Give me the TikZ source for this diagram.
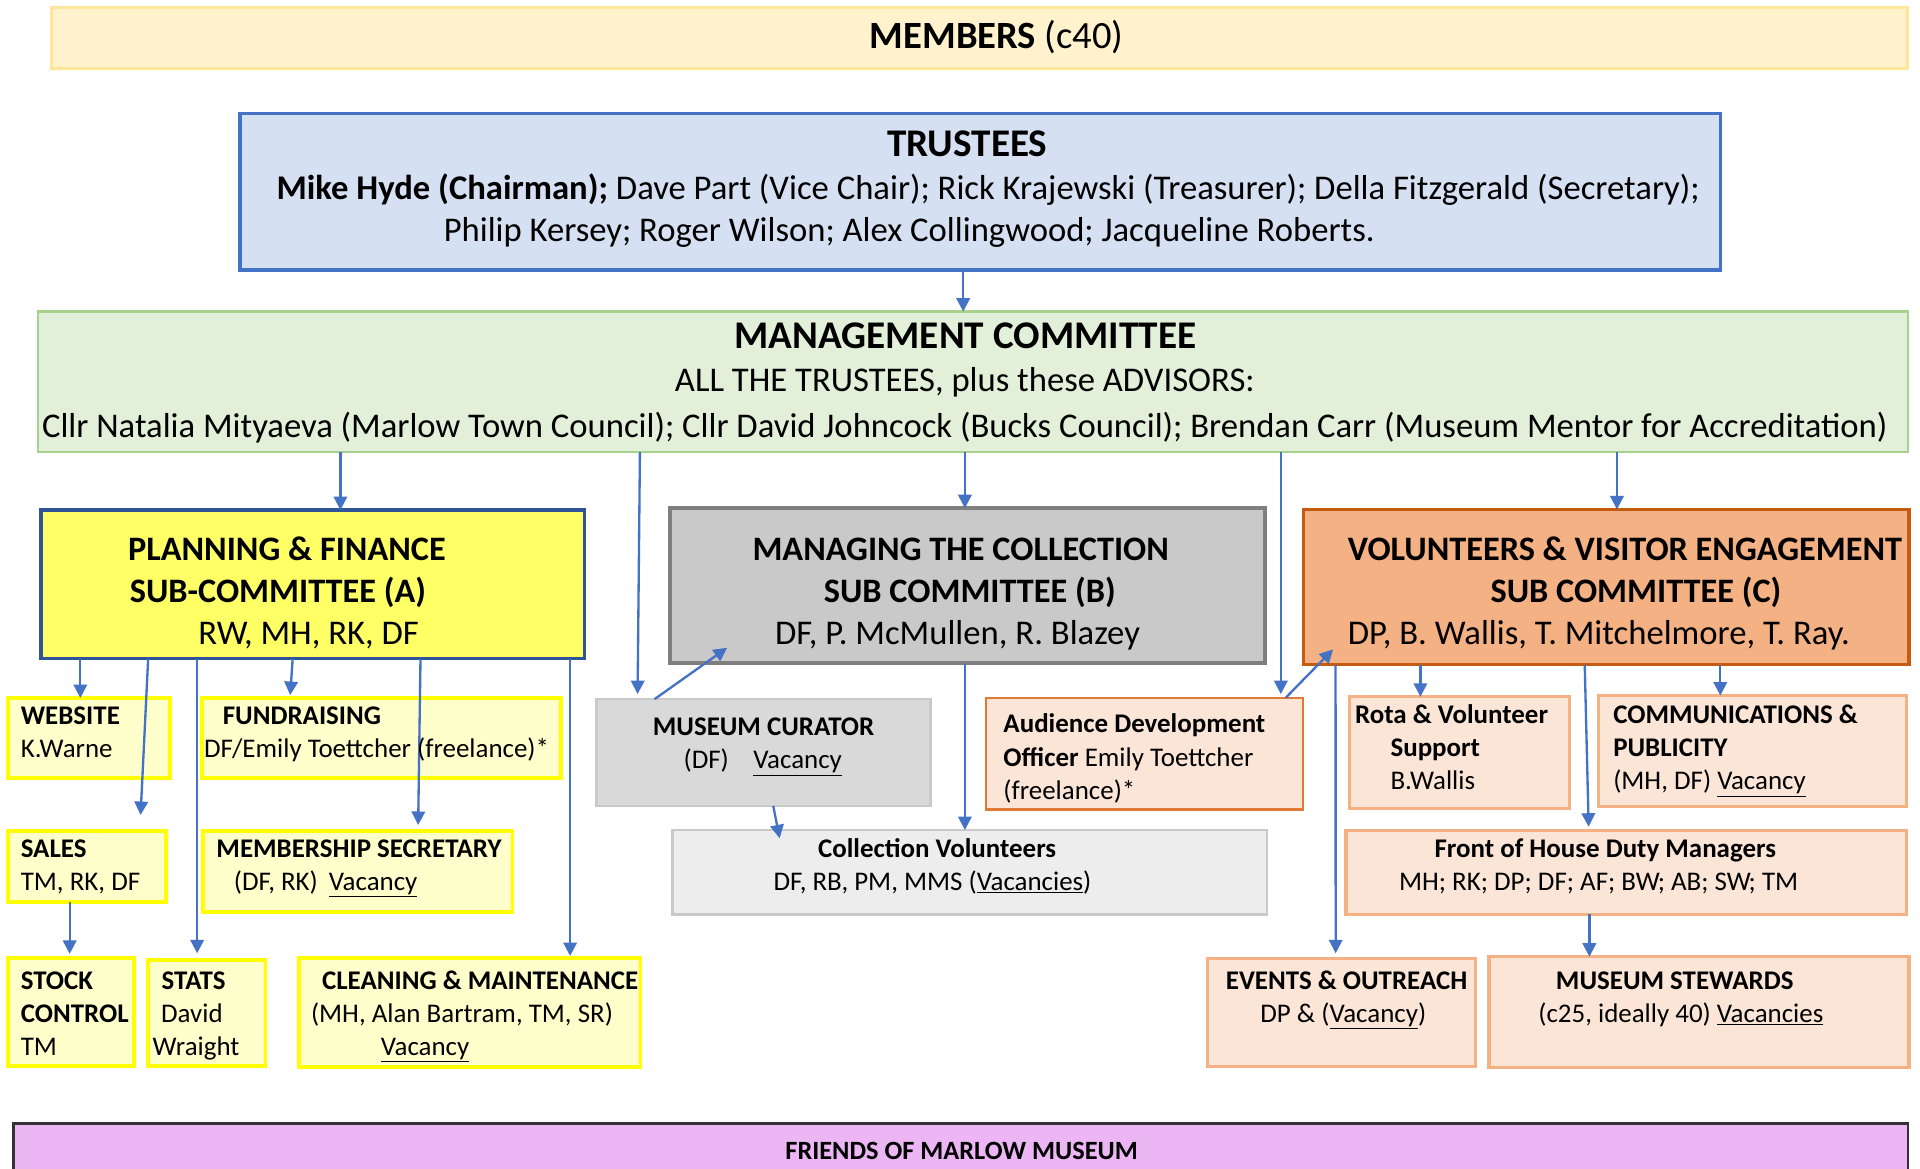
\documentclass[tikz,border=0pt]{standalone}
\usepackage{fontspec}
\setmainfont{Carlito}
\usetikzlibrary{arrows.meta}

\definecolor{membersfill}{HTML}{FFF2CC}
\definecolor{membersline}{HTML}{FFE699}
\definecolor{trusteesfill}{HTML}{D5E0F2}
\definecolor{trusteesline}{HTML}{4472C4}
\definecolor{mcfill}{HTML}{E2F0D9}
\definecolor{mcline}{HTML}{A9D18E}
\definecolor{pffill}{HTML}{FFFF66}
\definecolor{pfline}{HTML}{2F5597}
\definecolor{pfsubfill}{HTML}{FFFFCC}
\definecolor{pfsubline}{HTML}{FFFF00}
\definecolor{collfill}{HTML}{C9C9C9}
\definecolor{collline}{HTML}{7F7F7F}
\definecolor{curfill}{HTML}{D9D9D9}
\definecolor{cvfill}{HTML}{EDEDED}
\definecolor{greyline}{HTML}{C9C9C9}
\definecolor{volfill}{HTML}{F4B183}
\definecolor{volline}{HTML}{C55A11}
\definecolor{peachfill}{HTML}{FBE5D6}
\definecolor{peachline}{HTML}{F4B183}
\definecolor{adoline}{HTML}{E07A35}
\definecolor{friendsfill}{HTML}{ECB5F4}
\definecolor{friendsline}{HTML}{333333}
\definecolor{arrowblue}{HTML}{4472C4}

\newcommand\vacu[1]{\underline{#1}}
% box from its corners: name, style, x1, y1, x2, y2
\newcommand\orgbox[6]{%
  \node[box,#2,minimum width={(#5-#3)*1pt},minimum height={(#6-#4)*1pt}]
    (#1) at ({(#3+#5)/2},{(#4+#6)/2}) {};}

\tikzset{
  box/.style={rectangle, inner sep=0pt, outer sep=0pt},
  yelsub/.style={draw=pfsubline, fill=pfsubfill, line width=3pt},
  greybox/.style={draw=greyline, line width=2pt},
  peach/.style={draw=peachline, fill=peachfill, line width=2.5pt},
  lbl/.style={inner sep=0pt, outer sep=0pt, text=black},
  headtxt/.style={lbl, font=\fontsize{32}{36}\selectfont\bfseries},
  subhead/.style={lbl, font=\fontsize{28}{34}\selectfont\bfseries},
  bodytxt/.style={lbl, font=\fontsize{28.3}{34}\selectfont},
  smalltxt/.style={lbl, font=\fontsize{22}{27}\selectfont},
  smallbold/.style={lbl, font=\fontsize{22}{27}\selectfont\bfseries},
  arr/.style={draw=arrowblue, line width=1.9pt, -{Triangle[length=11pt,width=11pt]}},
}

\begin{document}
\begin{tikzpicture}[x=1pt,y=-1pt]
\useasboundingbox (0,0) rectangle (1568,954);
\fill[white] (0,0) rectangle (1568,954);
\clip (0,0) rectangle (1568,954);

% ---------- boxes ----------
\orgbox{members}{draw=membersline, fill=membersfill, line width=2.5pt}{42}{6}{1558}{56}
\orgbox{trustees}{draw=trusteesline, fill=trusteesfill, line width=2.5pt}{196}{92.5}{1405}{220.5}
\orgbox{mc}{draw=mcline, fill=mcfill, line width=2pt}{31}{254.5}{1558}{369}

\orgbox{pf}{draw=pfline, fill=pffill, line width=2.5pt}{33.5}{416.5}{477}{538}
\orgbox{coll}{draw=collline, fill=collfill, line width=3pt}{547}{415}{1033}{541.5}
\orgbox{vol}{draw=volline, fill=volfill, line width=2.5pt}{1064.5}{416}{1559}{543}

\orgbox{website}{yelsub}{6.6}{570}{138.6}{635.6}
\orgbox{fund}{yelsub}{165}{570}{458}{635.6}
\orgbox{sales}{yelsub}{6.6}{678.4}{135.6}{736.4}
\orgbox{memb}{yelsub}{166}{678.4}{418.5}{745}
\orgbox{stock}{yelsub}{6.6}{782.6}{109.4}{870.3}
\orgbox{stats}{yelsub}{121}{784}{216.9}{870.5}
\orgbox{clean}{yelsub}{244.3}{782.6}{523}{871.6}

\orgbox{curator}{greybox, fill=curfill}{487}{571}{760}{658.2}
\orgbox{cv}{greybox, fill=cvfill}{549.2}{677.8}{1034.5}{746.7}

\orgbox{ado}{draw=adoline, fill=peachfill, line width=1.8pt}{805}{569.8}{1063.9}{661}
\orgbox{rota}{peach}{1101.8}{569}{1281.9}{660}
\orgbox{comms}{peach}{1305.5}{568}{1557}{659}
\orgbox{foh}{peach}{1099.2}{678.4}{1557}{746.7}
\orgbox{events}{peach}{986}{782.6}{1204.6}{870.6}
\orgbox{stew}{peach}{1216}{781.3}{1559}{871.6}

\orgbox{friends}{draw=friendsline, fill=friendsfill, line width=2pt}{11}{917.4}{1558}{990}

% ---------- connectors ----------
\coordinate (xT) at (786.6,0);
\coordinate (xA) at (278,0);
\coordinate (xB) at (788,0);
\coordinate (xC) at (1320.5,0);
\coordinate (xCurS) at (522.6,0);  \coordinate (curIn) at (520.7,566.8);
\coordinate (xAdoS) at (1046,0);   \coordinate (adoIn) at (1046,566.8);

\draw[arr] (trustees.south -| xT) -- (mc.north -| xT);
\draw[arr] (mc.south -| xA) -- (pf.north -| xA);
\draw[arr] (mc.south -| xCurS) -- (curIn);
\draw[arr] (mc.south -| xB) -- (coll.north -| xB);
\draw[arr] (mc.south -| xAdoS) -- (adoIn);
\draw[arr] (mc.south -| xC) -- (vol.north -| xC);

% planning & finance branches
\coordinate (xW) at (65.6,0);
\coordinate (xSa) at (121,0);   \coordinate (salesIn) at (114.8,665.6);
\coordinate (xSt) at (161,0);   \coordinate (statsIn) at (161,778.5);
\coordinate (xF) at (239,0);    \coordinate (fundIn) at (237,567.6);
\coordinate (xM) at (343.4,0);  \coordinate (membIn) at (341.5,673.7);
\coordinate (xCl) at (465.6,0); \coordinate (cleanIn) at (465.6,780.7);
\coordinate (xSk) at (56.9,0);  \coordinate (stockIn) at (56.9,779);

\draw[arr] (pf.south -| xW) -- (website.north -| xW);
\draw[arr] (pf.south -| xSa) -- (salesIn);
\draw[arr] (pf.south -| xSt) -- (statsIn);
\draw[arr] (pf.south -| xF) -- (fundIn);
\draw[arr] (pf.south -| xM) -- (membIn);
\draw[arr] (pf.south -| xCl) -- (cleanIn);
\draw[arr] (sales.south -| xSk) -- (stockIn);

% collection branches
\coordinate (xCu) at (534.5,0);   \coordinate (collIn) at (593.8,529);
\coordinate (xCu2) at (631.5,0);  \coordinate (cvIn) at (636.7,684.6);
\draw[arr] (curator.north -| xCu) -- (collIn);
\draw[arr] (curator.south -| xCu2) -- (cvIn);
\draw[arr] (coll.south -| xB) -- (cv.north -| xB);

% volunteers branches
\coordinate (xAd) at (1050,0);    \coordinate (volIn) at (1088.7,530.3);
\coordinate (xR) at (1160,0);
\coordinate (xCo) at (1404.9,0);
\coordinate (xFs) at (1294.2,0);  \coordinate (fohIn) at (1297.4,675.1);
\coordinate (xE) at (1090.7,0);   \coordinate (eventsIn) at (1090.8,778.5);
\coordinate (xSw) at (1298,0);
\draw[arr] (ado.north -| xAd) -- (volIn);
\draw[arr] (vol.south -| xR) -- (rota.north -| xR);
\draw[arr] (vol.south -| xCo) -- (comms.north -| xCo);
\draw[arr] (vol.south -| xFs) -- (fohIn);
\draw[arr] (vol.south -| xE) -- (eventsIn);
\draw[arr] (foh.south -| xSw) -- (stew.north -| xSw);

% ---------- texts ----------
\node[lbl, font=\fontsize{31.5}{36}\selectfont, anchor=base] (memT) at (814,39.5) {\textbf{MEMBERS} (c40)};

\node[headtxt, anchor=base] (trT1) at (790,128) {TRUSTEES};
\node[bodytxt, anchor=base] (trT2) at (807,163) {\textbf{Mike Hyde (Chairman);} Dave Part (Vice Chair); Rick Krajewski (Treasurer); Della Fitzgerald (Secretary);};
\node[bodytxt, anchor=base] (trT3) at (742.5,197.6) {Philip Kersey; Roger Wilson; Alex Collingwood; Jacqueline Roberts.};

\node[headtxt, anchor=base] (mcT1) at (788.5,285) {MANAGEMENT COMMITTEE};
\node[bodytxt, anchor=base] (mcT2) at (788,320) {ALL THE TRUSTEES, plus these ADVISORS:};
\node[bodytxt, anchor=base] (mcT3) at (788,357) {Cllr Natalia Mityaeva (Marlow Town Council); Cllr David Johncock (Bucks Council); Brendan Carr (Museum Mentor for Accreditation)};

\node[subhead, anchor=base west] (pfT1) at (104.6,458) {PLANNING \& FINANCE};
\node[subhead, anchor=base west] (pfT2) at (106,492) {SUB-COMMITTEE (A)};
\node[bodytxt, anchor=base west] (pfT3) at (162,526) {RW, MH, RK, DF};

\node[subhead, anchor=base] (cbT1) at (784.6,458) {MANAGING THE COLLECTION};
\node[subhead, anchor=base] (cbT2) at (792,492) {SUB COMMITTEE (B)};
\node[bodytxt, anchor=base] (cbT3) at (782,526) {DF, P. McMullen, R. Blazey};

\node[subhead, anchor=base west] (vcT1) at (1100.8,458) {VOLUNTEERS \& VISITOR ENGAGEMENT};
\node[subhead, anchor=base] (vcT2) at (1336,492) {SUB COMMITTEE (C)};
\node[bodytxt, anchor=base west] (vcT3) at (1100.8,526) {DP, B. Wallis, T. Mitchelmore, T. Ray.};

\node[smallbold, anchor=base west] (webT1) at (17,592) {WEBSITE};
\node[smalltxt, anchor=base west] (webT2) at (17,619) {K.Warne};
\node[smallbold, anchor=base west] (fuT1) at (182,592) {FUNDRAISING};
\node[smalltxt, anchor=base west] (fuT2) at (166.6,619) {DF/Emily Toettcher (freelance)*};

\node[smallbold, anchor=base west] (saT1) at (17,700) {SALES};
\node[smalltxt, anchor=base west] (saT2) at (17,727) {TM, RK, DF};
\node[smallbold, anchor=base west] (meT1) at (176.8,700) {MEMBERSHIP SECRETARY};
\node[smalltxt, anchor=base west] (meT2) at (191,727) {(DF, RK)\hspace{9pt}\vacu{Vacancy}};

\node[smallbold, anchor=base west] (skT1) at (17,808) {STOCK};
\node[smallbold, anchor=base west] (skT2) at (17,835) {CONTROL};
\node[smalltxt, anchor=base west] (skT3) at (17,861.6) {TM};
\node[smallbold, anchor=base west] (stT1) at (132,808) {STATS};
\node[smalltxt, anchor=base west] (stT2) at (131.6,835) {David};
\node[smalltxt, anchor=base west] (stT3) at (124.7,861.6) {Wraight};
\node[smallbold, anchor=base west] (clT1) at (263,808) {CLEANING \& MAINTENANCE};
\node[smalltxt, anchor=base west] (clT2) at (254,835) {(MH, Alan Bartram, TM, SR)};
\node[smalltxt, anchor=base west] (clT3) at (311,861.6) {\vacu{Vacancy}};

\node[smallbold, anchor=base] (cuT1) at (623.6,600.8) {MUSEUM CURATOR};
\node[smalltxt, anchor=base west] (cuT2) at (558.3,628) {(DF)\hspace{20pt}\vacu{Vacancy}};
\node[smallbold, anchor=base] (cvT1) at (765.3,700) {Collection Volunteers};
\node[smalltxt, anchor=base] (cvT2) at (761.5,727) {DF, RB, PM, MMS (\vacu{Vacancies})};

\node[smallbold, anchor=base west] (adT1) at (819.5,598) {Audience Development};
\node[smalltxt, anchor=base west] (adT2) at (819.5,626) {\textbf{Officer} Emily Toettcher};
\node[smalltxt, anchor=base west] (adT3) at (819.5,653) {(freelance)*};

\node[smallbold, anchor=base west] (roT1) at (1106.7,591) {Rota \& Volunteer};
\node[smallbold, anchor=base west] (roT2) at (1135.6,618) {Support};
\node[smalltxt, anchor=base west] (roT3) at (1135.6,645) {B.Wallis};
\node[smallbold, anchor=base west] (coT1) at (1317.5,591) {COMMUNICATIONS \&};
\node[smallbold, anchor=base west] (coT2) at (1317.5,618) {PUBLICITY};
\node[smalltxt, anchor=base west] (coT3) at (1317.5,645) {(MH, DF) \vacu{Vacancy}};

\node[smallbold, anchor=base] (foT1) at (1311,700) {Front of House Duty Managers};
\node[smalltxt, anchor=base] (foT2) at (1305.5,727) {MH; RK; DP; DF; AF; BW; AB; SW; TM};
\node[smallbold, anchor=base] (evT1) at (1099.7,808) {EVENTS \& OUTREACH};
\node[smalltxt, anchor=base] (evT2) at (1097,835) {DP \& (\vacu{Vacancy})};
\node[smallbold, anchor=base] (swT1) at (1367.7,808) {MUSEUM STEWARDS};
\node[smalltxt, anchor=base] (swT2) at (1372.7,835) {(c25, ideally 40) \vacu{Vacancies}};

\node[lbl, font=\fontsize{21.5}{26}\selectfont\bfseries, anchor=base] (frT) at (785.3,947.3) {FRIENDS OF MARLOW MUSEUM};
\end{tikzpicture}
\end{document}
